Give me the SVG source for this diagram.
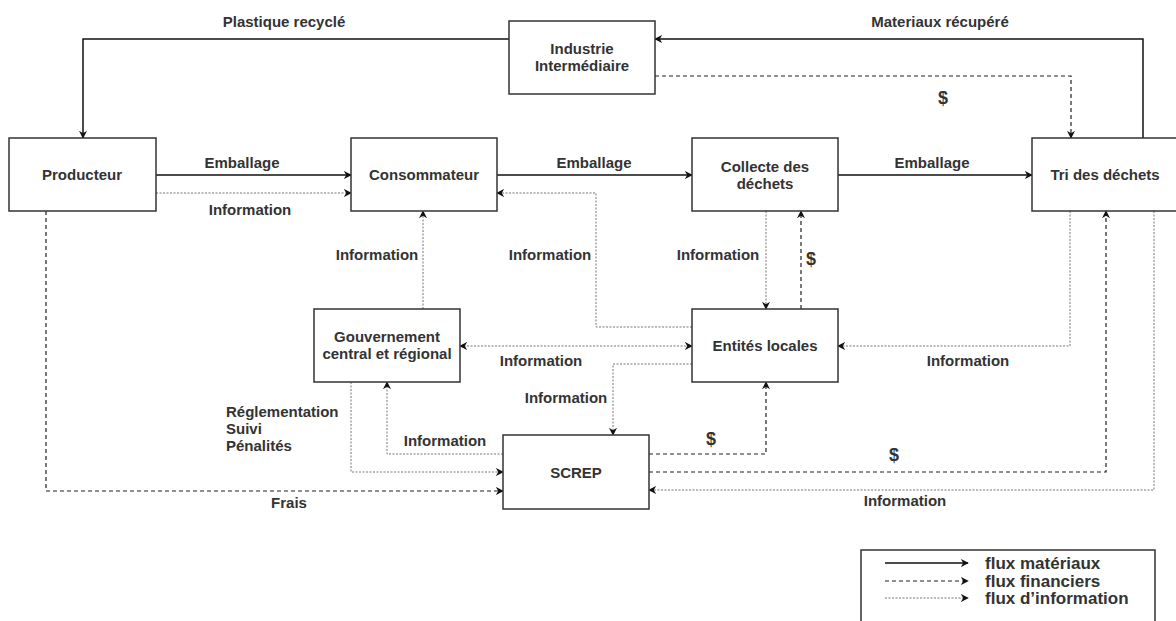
<svg xmlns="http://www.w3.org/2000/svg" width="1176" height="621" viewBox="0 0 1176 621">
<style>
.box{fill:#fff;stroke:#333;stroke-width:1.5}
.t{font-family:"Liberation Sans",Arial,sans-serif;font-size:15px;font-weight:bold;fill:#333;text-anchor:middle}
.l{font-family:"Liberation Sans",Arial,sans-serif;font-size:15px;font-weight:bold;fill:#333;text-anchor:middle}
.la{text-anchor:start}
.d{font-size:18px}
.solid{fill:none;stroke:#111;stroke-width:1.5;marker-end:url(#a)}
.dash{fill:none;stroke:#222;stroke-width:1.2;stroke-dasharray:4 3;marker-end:url(#a)}
.dot{fill:none;stroke:#777;stroke-width:1;stroke-dasharray:2 1.5;marker-end:url(#a)}
.lg{font-family:"Liberation Sans",Arial,sans-serif;font-size:17px;font-weight:bold;fill:#333}
</style>
<defs>
<marker id="a" viewBox="0 0 10 10" refX="9" refY="5" markerWidth="8" markerHeight="8" markerUnits="userSpaceOnUse" orient="auto-start-reverse">
<path d="M0,0 L10,5 L0,10 L3,5 z" fill="#111"/>
</marker>
</defs>
<rect width="1176" height="621" fill="#fff"/>
<g id="connectors">
<path class="solid" d="M509,39 H83 V138"/>
<path class="solid" d="M1143,138 V39 H655"/>
<path class="dash" d="M655,76 H1071 V138"/>
<path class="solid" d="M156,175 H351"/>
<path class="dot" d="M156,193 H351"/>
<path class="solid" d="M497,175 H692"/>
<path class="solid" d="M838,175 H1032"/>
<path class="dot" d="M692,327 H596 V193 H497"/>
<path class="dot" d="M766,211 V309"/>
<path class="dash" d="M801,309 V211"/>
<path class="dot" d="M460,346 H692" style="marker-start:url(#a)"/>
<path class="dot" d="M423,309 V211"/>
<path class="dot" d="M1070,211 V346 H838"/>
<path class="dot" d="M692,364 H613 V435"/>
<path class="dot" d="M503,454 H387 V382"/>
<path class="dot" d="M351,382 V472 H503"/>
<path class="dash" d="M46,211 V491 H503"/>
<path class="dash" d="M649,454 H766 V382"/>
<path class="dash" d="M649,472 H1106 V211"/>
<path class="dot" d="M1154,211 V490 H649"/>
</g>
<g id="labels">
<text class="l" x="284" y="27">Plastique recyclé</text>
<text class="l" x="940" y="27">Materiaux récupéré</text>
<text class="l d" x="943" y="104">$</text>
<text class="l" x="242" y="168">Emballage</text>
<text class="l" x="250" y="215">Information</text>
<text class="l" x="594" y="168">Emballage</text>
<text class="l" x="932" y="168">Emballage</text>
<text class="l" x="377" y="260">Information</text>
<text class="l" x="550" y="260">Information</text>
<text class="l" x="718" y="260">Information</text>
<text class="l d" x="811" y="265">$</text>
<text class="l" x="541" y="366">Information</text>
<text class="l" x="968" y="366">Information</text>
<text class="l" x="566" y="403">Information</text>
<text class="l" x="445" y="446">Information</text>
<text class="l d" x="711" y="445">$</text>
<text class="l d" x="894" y="461">$</text>
<text class="l" x="905" y="506">Information</text>
<text class="l" x="289" y="508">Frais</text>
<text class="l la" x="226" y="417">Réglementation</text>
<text class="l la" x="226" y="434">Suivi</text>
<text class="l la" x="226" y="451">Pénalités</text>
</g>
<g id="producteur"><rect class="box" x="9" y="138" width="147" height="73"/><text class="t" x="82" y="180">Producteur</text></g>
<g id="consommateur"><rect class="box" x="351" y="138" width="146" height="73"/><text class="t" x="424" y="180">Consommateur</text></g>
<g id="industrie"><rect class="box" x="509" y="21" width="146" height="73"/><text class="t" x="582" y="54">Industrie</text><text class="t" x="582" y="71">Intermédiaire</text></g>
<g id="collecte"><rect class="box" x="692" y="138" width="146" height="73"/><text class="t" x="765" y="172">Collecte des</text><text class="t" x="765" y="189">déchets</text></g>
<g id="tri"><rect class="box" x="1032" y="138" width="146" height="73"/><text class="t" x="1105" y="180">Tri des déchets</text></g>
<g id="gouvernement"><rect class="box" x="314" y="309" width="146" height="73"/><text class="t" x="387" y="342">Gouvernement</text><text class="t" x="387" y="359">central et régional</text></g>
<g id="entites"><rect class="box" x="692" y="309" width="146" height="73"/><text class="t" x="765" y="351">Entités locales</text></g>
<g id="screp"><rect class="box" x="503" y="435" width="146" height="74"/><text class="t" x="576" y="478">SCREP</text></g>
<g id="legend">
<rect x="861" y="550" width="294" height="80" fill="#fff" stroke="#333" stroke-width="1.5"/>
<path class="solid" d="M885,563 H968"/>
<path class="dash" d="M885,581 H968"/>
<path class="dot" d="M885,598 H968"/>
<text class="lg" x="985" y="569">flux matériaux</text>
<text class="lg" x="985" y="587">flux financiers</text>
<text class="lg" x="985" y="604">flux d’information</text>
</g>
</svg>
